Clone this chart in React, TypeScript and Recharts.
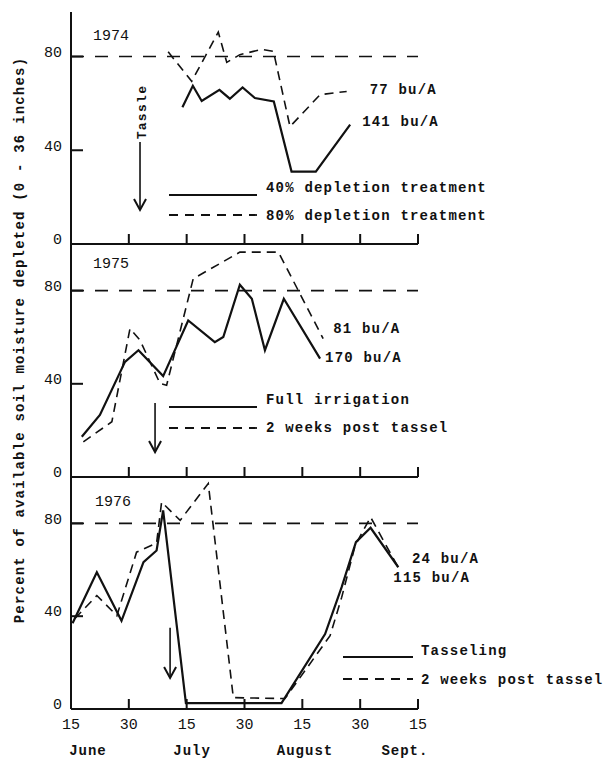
import React from 'react';
import { LineChart, Line, XAxis, YAxis, ReferenceLine, Legend } from 'recharts';

const FONT = '"Liberation Mono", "DejaVu Sans Mono", monospace';
const INK = '#111';

// x axis: days after June 15 (ticks every half month)
const xTicks = [0, 15, 30, 45, 60, 75, 90];
const xTickLabels = ['15', '30', '15', '30', '15', '30', '15'];
const monthPos = [4.4, 31.4, 60.7, 86.6];
const monthLabels = ['June', 'July', 'August', 'Sept.'];
const yTicks = [0, 40, 80];
const threshold = 80;
const yAxisTitle = 'Percent of available soil moisture depleted (0 - 36 inches)';

// 1974
const days74Solid = [28.9, 31.6, 33.9, 38.5, 41.2, 44.5, 47.7, 52.6, 57.2, 63.5, 72.4];
const vals74Solid = [58.4, 67.5, 61, 65.8, 62, 66.8, 62.3, 60.8, 30.9, 30.9, 50.9];
const days74Dashed = [25.2, 31.3, 38.2, 40.4, 43.8, 47.3, 49.5, 52.5, 56.8, 64.6, 71.5];
const vals74Dashed = [82, 69.4, 90.4, 77.5, 80.8, 82.2, 83, 82.2, 50.1, 63.7, 65.1];

// 1975
const days75Solid = [2.8, 7.5, 14.0, 17.5, 23.9, 30.4, 37.3, 39.5, 43.8, 46.9, 50.3, 55.2, 64.6];
const vals75Solid = [17.3, 26.6, 49.4, 54.4, 43.3, 67.2, 57.9, 60.1, 82.5, 76.5, 54.4, 76.5, 50.8];
const days75Dashed = [3.2, 10.6, 15.3, 17.9, 23.1, 24.8, 31.7, 43.8, 53.8, 65.4];
const vals75Dashed = [15.1, 23.7, 63.7, 58.7, 40.1, 39.4, 85.1, 96.5, 96.5, 59.4];

// 1976
const days76Solid = [0.4, 6.7, 13.1, 18.8, 22.2, 23.9, 29.8, 54.6, 65.9, 70.2, 73.9, 77.7, 84.9];
const vals76Solid = [37, 58.9, 38, 63.3, 68.3, 85.6, 2.5, 2.5, 32.3, 52.5, 71.9, 78.1, 61.1];
const days76Dashed = [1.0, 6.7, 11.9, 17.0, 22.2, 23.5, 28.3, 35.6, 42.1, 55.5, 67.2, 70.2, 73.7, 77.7, 85.3];
const vals76Dashed = [39, 48.9, 40.2, 67.6, 71.5, 89.2, 81.3, 97.2, 4.9, 4.5, 31.6, 48.1, 70.5, 82.7, 59.7];

const toPts = (xs: number[], ys: number[]) => xs.map((x, i) => ({ x, y: ys[i] }));

// shared horizontal geometry of the plot area
const PLOT_LEFT = 71;
const PLOT_RIGHT = 418;
const X_MAX = 90;
const xPx = (v: number) => PLOT_LEFT + (v * (PLOT_RIGHT - PLOT_LEFT)) / X_MAX;

type SeriesDef = {
  key: string;
  data: { x: number; y: number }[];
  dashed: boolean;
  endLabel: string;
  dx: number;
  dy: number;
};

type LegendRow = { label: string; dashed: boolean; lineY: number; textY: number };

type PanelDef = {
  top: number;
  height: number;
  mTop: number;
  mBottom: number;
  yMax: number;
  series: SeriesDef[];
  legendRows: LegendRow[];
  legendLeft: number;
  legendTop: number;
  lineLen: number;
  textX: number;
  arrow: { x: number; from: number; to: number; text?: string };
  bottom: boolean;
};

const X_AXIS_H = 1;
const plotTopPx = (p: PanelDef) => p.top + p.mTop;
const plotBottomPx = (p: PanelDef) => p.top + p.height - p.mBottom - X_AXIS_H;
const yPx = (p: PanelDef, v: number) =>
  plotBottomPx(p) - (v / p.yMax) * (plotBottomPx(p) - plotTopPx(p));

const YTick = (props: any) => {
  const x = Number(props.x);
  const y = Number(props.y);
  const v = props.payload.value;
  return (
    <text x={x - 9} y={y - 5} dy="0.35em" textAnchor="end" fontFamily={FONT} fontSize={15} fill={INK}>
      {v}
    </text>
  );
};

const makeXTick = (showLabel: boolean) => (props: any) => {
  const x = Number(props.x);
  const y = Number(props.y);
  const idx = xTicks.indexOf(props.payload.value);
  if (!showLabel) return <g />;
  return (
    <text x={x} y={y + 20} textAnchor="middle" fontFamily={FONT} fontSize={15} fill={INK}>
      {xTickLabels[idx]}
    </text>
  );
};

const makeEndDot = (len: number, text: string, dx: number, dy: number) => (props: any) => {
  const { cx, cy, index } = props;
  if (index !== len - 1) return <g key={`d${index}`} />;
  return (
    <text key={`d${index}`} x={cx + dx} y={cy + dy} dy="0.35em" fontFamily={FONT} fontWeight="bold" fontSize={14} letterSpacing={1.2} fill={INK}>
      {text}
    </text>
  );
};

const makeArrowShape = (text?: string) => (props: any) => {
  const { x1, y1, x2, y2 } = props;
  return (
    <g>
      <line x1={x1} y1={y1} x2={x2} y2={y2} stroke={INK} strokeWidth={1.6} />
      <polyline points={`${x2 - 6},${y2 - 11} ${x2},${y2} ${x2 + 6},${y2 - 11}`} fill="none" stroke={INK} strokeWidth={2} />
      {text && (
        <text
          transform={`translate(${x1 + 1},${y1 - 30}) rotate(-90)`}
          textAnchor="middle"
          dy="0.35em"
          fontFamily={FONT}
          fontWeight="bold"
          fontSize={13}
          letterSpacing={1.3}
          fill={INK}
        >
          {text}
        </text>
      )}
    </g>
  );
};

const makeLegend = (rows: LegendRow[], lineLen: number, textX: number) => () => (
  <svg width={440} height={60} style={{ overflow: 'visible', display: 'block' }}>
    {rows.map((r) => (
      <g key={r.label}>
        <line
          x1={0}
          x2={lineLen}
          y1={r.lineY}
          y2={r.lineY}
          stroke={INK}
          strokeWidth={r.dashed ? 1.8 : 2}
          strokeDasharray={r.dashed ? '9 7' : undefined}
        />
        <text x={textX} y={r.textY} dy="0.35em" fontFamily={FONT} fontWeight="bold" fontSize={14} letterSpacing={1.2} fill={INK}>
          {r.label}
        </text>
      </g>
    ))}
  </svg>
);

const panels: PanelDef[] = [
  {
    top: 0,
    height: 260,
    mTop: 12,
    mBottom: 15,
    yMax: 99,
    series: [
      { key: 's74', data: toPts(days74Solid, vals74Solid), dashed: false, endLabel: '141 bu/A', dx: 12, dy: -4 },
      { key: 'd74', data: toPts(days74Dashed, vals74Dashed), dashed: true, endLabel: '77 bu/A', dx: 23, dy: -2 },
    ],
    legendRows: [
      { label: '40% depletion treatment', dashed: false, lineY: 15, textY: 7 },
      { label: '80% depletion treatment', dashed: true, lineY: 35, textY: 35 },
    ],
    legendLeft: 169,
    legendTop: 180,
    lineLen: 88,
    textX: 97,
    arrow: { x: 17.9, from: 43.5, to: 14.5, text: 'Tassle' },
    bottom: false,
  },
  {
    top: 230,
    height: 260,
    mTop: 14,
    mBottom: 12,
    yMax: 100,
    series: [
      { key: 's75', data: toPts(days75Solid, vals75Solid), dashed: false, endLabel: '170 bu/A', dx: 5, dy: -2 },
      { key: 'd75', data: toPts(days75Dashed, vals75Dashed), dashed: true, endLabel: '81 bu/A', dx: 10, dy: -10 },
    ],
    legendRows: [
      { label: 'Full irrigation', dashed: false, lineY: 22, textY: 14 },
      { label: '2 weeks post tassel', dashed: true, lineY: 43, textY: 42 },
    ],
    legendLeft: 169,
    legendTop: 155,
    lineLen: 88,
    textX: 97,
    arrow: { x: 21.8, from: 31.8, to: 10.7 },
    bottom: false,
  },
  {
    top: 464,
    height: 294,
    mTop: 13,
    mBottom: 48,
    yMax: 100,
    series: [
      { key: 's76', data: toPts(days76Solid, vals76Solid), dashed: false, endLabel: '115 bu/A', dx: -5, dy: 10 },
      { key: 'd76', data: toPts(days76Dashed, vals76Dashed), dashed: true, endLabel: '24 bu/A', dx: 12, dy: -12 },
    ],
    legendRows: [
      { label: 'Tasseling', dashed: false, lineY: 22, textY: 15 },
      { label: '2 weeks post tassel', dashed: true, lineY: 44, textY: 44 },
    ],
    legendLeft: 343,
    legendTop: 171,
    lineLen: 70,
    textX: 78,
    arrow: { x: 25.7, from: 35, to: 13.4 },
    bottom: true,
  },
];

const years = [
  { label: '1974', x: 93, y: 35 },
  { label: '1975', x: 93, y: 263 },
  { label: '1976', x: 95, y: 501 },
];

function Panel({ p }: { p: PanelDef }) {
  return (
    <div style={{ position: 'absolute', left: 0, top: p.top, width: 603, height: p.height }}>
      <LineChart width={603} height={p.height} margin={{ top: p.mTop, bottom: p.mBottom, left: PLOT_LEFT - 1, right: 603 - PLOT_RIGHT }}>
        <XAxis
          dataKey="x"
          type="number"
          domain={[0, X_MAX]}
          ticks={xTicks}
          height={X_AXIS_H}
          tickSize={0}
          tickMargin={0}
          tickLine={false}
          axisLine={{ stroke: INK, strokeWidth: 2 }}
          tick={makeXTick(p.bottom)}
          interval={0}
        />
        <YAxis
          type="number"
          domain={[0, p.yMax]}
          ticks={yTicks}
          width={1}
          tickSize={0}
          tickMargin={0}
          tickLine={false}
          axisLine={{ stroke: INK, strokeWidth: 2 }}
          tick={YTick}
          interval={0}
        />
        <ReferenceLine y={threshold} stroke={INK} strokeWidth={1.6} strokeDasharray="13 11" />
        <ReferenceLine
          segment={[
            { x: p.arrow.x, y: p.arrow.from },
            { x: p.arrow.x, y: p.arrow.to },
          ]}
          stroke={INK}
          shape={makeArrowShape(p.arrow.text)}
        />
        {p.series.map((s) => (
          <Line
            key={s.key}
            data={s.data}
            dataKey="y"
            type="linear"
            stroke={INK}
            strokeWidth={s.dashed ? 1.6 : 2.2}
            strokeDasharray={s.dashed ? '9 6' : undefined}
            dot={makeEndDot(s.data.length, s.endLabel, s.dx, s.dy)}
            activeDot={false}
            isAnimationActive={false}
          />
        ))}
        <Legend
          layout="horizontal"
          verticalAlign="middle"
          align="center"
          content={makeLegend(p.legendRows, p.lineLen, p.textX)}
          wrapperStyle={{ left: p.legendLeft, top: p.legendTop, width: 440, height: 60 }}
        />
      </LineChart>
    </div>
  );
}

export default function App() {
  return (
    <div style={{ position: 'absolute', left: 0, top: 0, width: 603, height: 758, background: '#fff', overflow: 'hidden' }}>
      {panels.map((p, i) => (
        <Panel key={i} p={p} />
      ))}
      <svg width={603} height={758} style={{ position: 'absolute', left: 0, top: 0, pointerEvents: 'none' }}>
        {/* inward axis tick marks, placed with the same scale as the plots */}
        {panels.map((p, pi) => (
          <g key={`ticks${pi}`}>
            {xTicks.slice(1).map((t) => (
              <rect key={`x${t}`} x={xPx(t) - 1} y={plotBottomPx(p) - 10} width={2} height={10} fill={INK} />
            ))}
            {yTicks.slice(1).map((v) => (
              <rect key={`y${v}`} x={PLOT_LEFT} y={yPx(p, v) - 1} width={12} height={2} fill={INK} />
            ))}
          </g>
        ))}
        <text
          transform="translate(19,340) rotate(-90)"
          textAnchor="middle"
          dy="0.35em"
          fontFamily={FONT}
          fontWeight="bold"
          fontSize={14}
          letterSpacing={1.2}
          fill={INK}
        >
          {yAxisTitle}
        </text>
        {years.map((yr) => (
          <text key={yr.label} x={yr.x} y={yr.y} dy="0.35em" fontFamily={FONT} fontSize={15} fill={INK}>
            {yr.label}
          </text>
        ))}
        {monthLabels.map((m, i) => (
          <text key={m} x={xPx(monthPos[i])} y={755} textAnchor="middle" fontFamily={FONT} fontWeight="bold" fontSize={14} letterSpacing={1} fill={INK}>
            {m}
          </text>
        ))}
      </svg>
    </div>
  );
}
